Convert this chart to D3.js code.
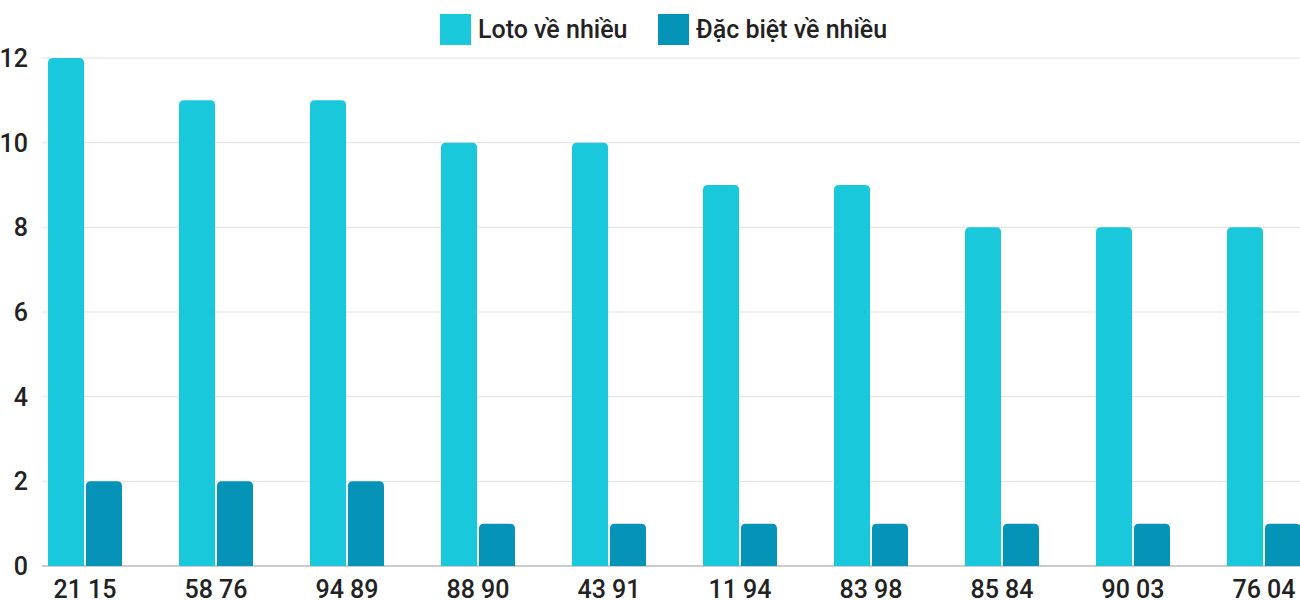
<!DOCTYPE html>
<html><head><meta charset="utf-8">
<script src="https://cdn.jsdelivr.net/npm/d3@7"></script>
<style>body{margin:0;background:#fff;font-family:Roboto,sans-serif}</style>
</head><body><div id="chart"></div>
<script>
const categories = ["21 15","58 76","94 89","88 90","43 91","11 94","83 98","85 84","90 03","76 04"];
const lotoValues = [12,11,11,10,10,9,9,8,8,8];
const dbValues = [2,2,2,1,1,1,1,1,1,1];
const seriesNames = ["Loto về nhiều","Đặc biệt về nhiều"];
const colors = ["#1ac8dc","#0594b8"];
const yTicks = [0,2,4,6,8,10,12];

const W = 1300, H = 600;
const svg = d3.select("#chart").append("svg").attr("width", W).attr("height", H);

const x = d3.scaleBand().domain(categories).range([48, 1301]).paddingInner(57/131).paddingOuter(0);
const x1 = d3.scaleBand().domain([0,1]).range([0, x.bandwidth()]).paddingInner(0.05);
const y = d3.scaleLinear().domain([0,12]).range([566, 58]);

// grid
svg.append("g").selectAll("line").data(yTicks).join("line")
  .attr("x1", 42).attr("x2", 1300)
  .attr("y1", d => y(d)).attr("y2", d => y(d))
  .attr("stroke", d => d === 0 ? "#999" : "#e0e0e0").attr("stroke-width", 1);

svg.append("g").selectAll("text").data(yTicks).join("text")
  .attr("x", 28).attr("y", d => y(d) + 9)
  .attr("text-anchor", "end").attr("font-size", 25).attr("font-weight", 500).attr("fill", "#222")
  .text(d => d);

function topRounded(x0, y0, w, h, r) {
  r = Math.min(r, h);
  return `M${x0},${y0+h}V${y0+r}Q${x0},${y0} ${x0+r},${y0}H${x0+w-r}Q${x0+w},${y0} ${x0+w},${y0+r}V${y0+h}Z`;
}

[lotoValues, dbValues].forEach((vals, si) => {
  svg.append("g").selectAll("path").data(vals).join("path")
    .attr("fill", colors[si])
    .attr("d", (d, i) => topRounded(x(categories[i]) + x1(si), y(d), x1.bandwidth(), y(0) - y(d), 5));
});

svg.append("g").selectAll("text").data(categories).join("text")
  .attr("x", d => x(d) + x.bandwidth() / 2).attr("y", 598)
  .attr("text-anchor", "middle").attr("font-size", 25).attr("font-weight", 500).attr("fill", "#222")
  .text(d => d);

// legend
const leg = [{x: 440, name: seriesNames[0], c: colors[0]}, {x: 658, name: seriesNames[1], c: colors[1]}];
const lg = svg.append("g").selectAll("g").data(leg).join("g");
lg.append("rect").attr("x", d => d.x).attr("y", 14).attr("width", 31).attr("height", 31).attr("fill", d => d.c);
lg.append("text").attr("x", d => d.x + 38).attr("y", 38).attr("font-size", 25).attr("font-weight", 500).attr("fill", "#222").text(d => d.name);
</script></body></html>
